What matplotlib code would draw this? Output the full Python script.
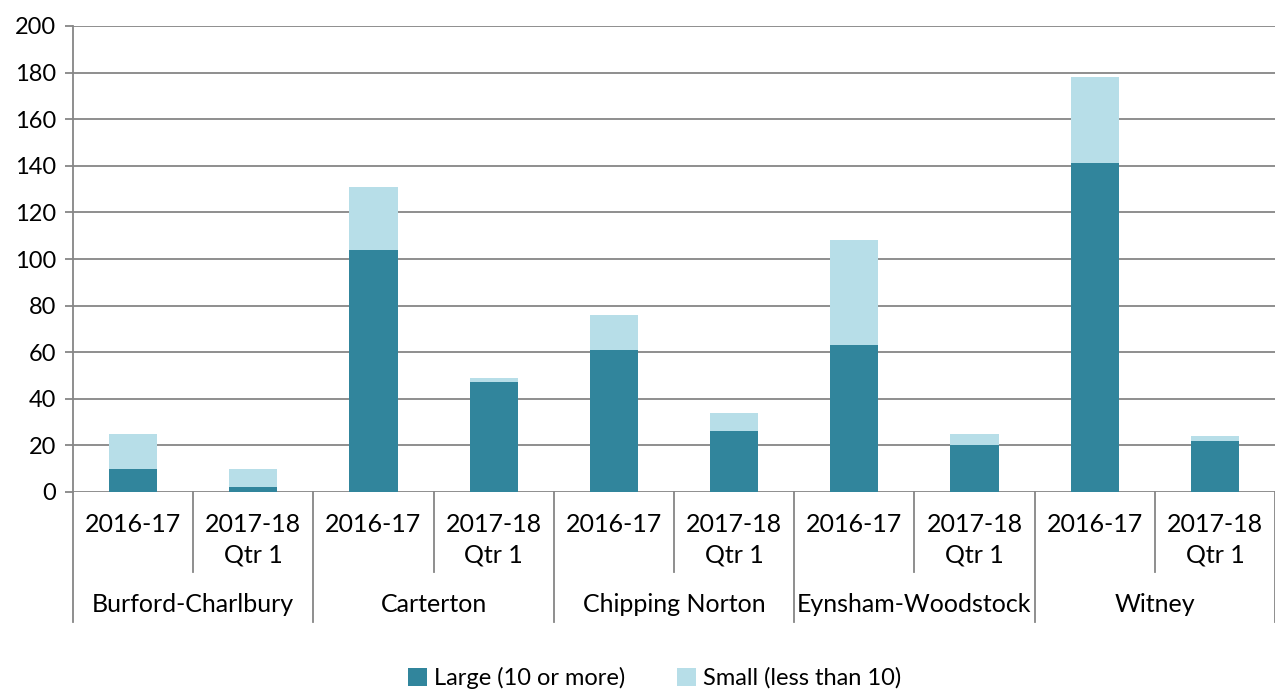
import matplotlib.pyplot as plt
import matplotlib.transforms as mtransforms
import numpy as np

# ----------------------------------------
# Data
# ----------------------------------------
groups = ["Burford-Charlbury", "Carterton", "Chipping Norton", "Eynsham-Woodstock", "Witney"]
periods = [["2016-17"], ["2017-18", "Qtr 1"]]
large = [10, 2, 104, 47, 61, 26, 63, 20, 141, 22]
small = [15, 8, 27, 2, 15, 8, 45, 5, 37, 2]

dark = "#31859C"
light = "#B7DEE8"
grey = "#868686"

plt.rcParams["font.family"] = ["Lato", "DejaVu Sans"]

fig = plt.figure(figsize=(12.75, 6.91), dpi=100)
ax = fig.add_axes([73 / 1275, 1 - 492 / 691, 1 - 73 / 1275, (492 - 26) / 691])

x = np.arange(len(large))
ax.bar(x, large, width=0.4, color=dark, label="Large (10 or more)", zorder=3)
ax.bar(x, small, width=0.4, bottom=large, color=light, label="Small (less than 10)", zorder=3)

ax.set_xlim(-0.5, len(large) - 0.5)
ax.set_ylim(0, 200)
ax.set_yticks(range(0, 201, 20))
ax.tick_params(axis="y", labelsize=17, length=6, width=1.3, color=grey, pad=6)
ax.set_xticks([])
ax.yaxis.grid(True, color=grey, linewidth=1.3, zorder=0)
ax.set_axisbelow(True)
for s in ["top", "right", "bottom"]:
    ax.spines[s].set_visible(False)
ax.spines["left"].set_color(grey)
ax.spines["left"].set_linewidth(1.3)

# ----------------------------------------
# Two-level category axis
# ----------------------------------------
trans = mtransforms.blended_transform_factory(ax.transData, ax.transAxes)
short_bottom = -(572 - 492) / 466
long_bottom = -(622 - 492) / 466
for i in range(len(large) + 1):
    xs = i - 0.5
    yb = long_bottom if i % 2 == 0 else short_bottom
    ax.plot([xs, xs], [0, yb], color=grey, linewidth=1.3, transform=trans, clip_on=False)

line_y = [-(524 - 492) / 466, -(555 - 492) / 466]
for i in range(len(large)):
    for k, part in enumerate(periods[i % 2]):
        ax.text(i, line_y[k], part, transform=trans, ha="center", va="center", fontsize=18)

for g, name in enumerate(groups):
    ax.text(2 * g + 0.5, -(605 - 492) / 466, name, transform=trans,
            ha="center", va="center", fontsize=18)

fig.legend(loc="center", bbox_to_anchor=(655 / 1275, 1 - 678 / 691), ncol=2, frameon=False,
           fontsize=17, handlelength=0.8, handleheight=0.8, handletextpad=0.3,
           columnspacing=2.2)

plt.savefig("out.png", dpi=100)
